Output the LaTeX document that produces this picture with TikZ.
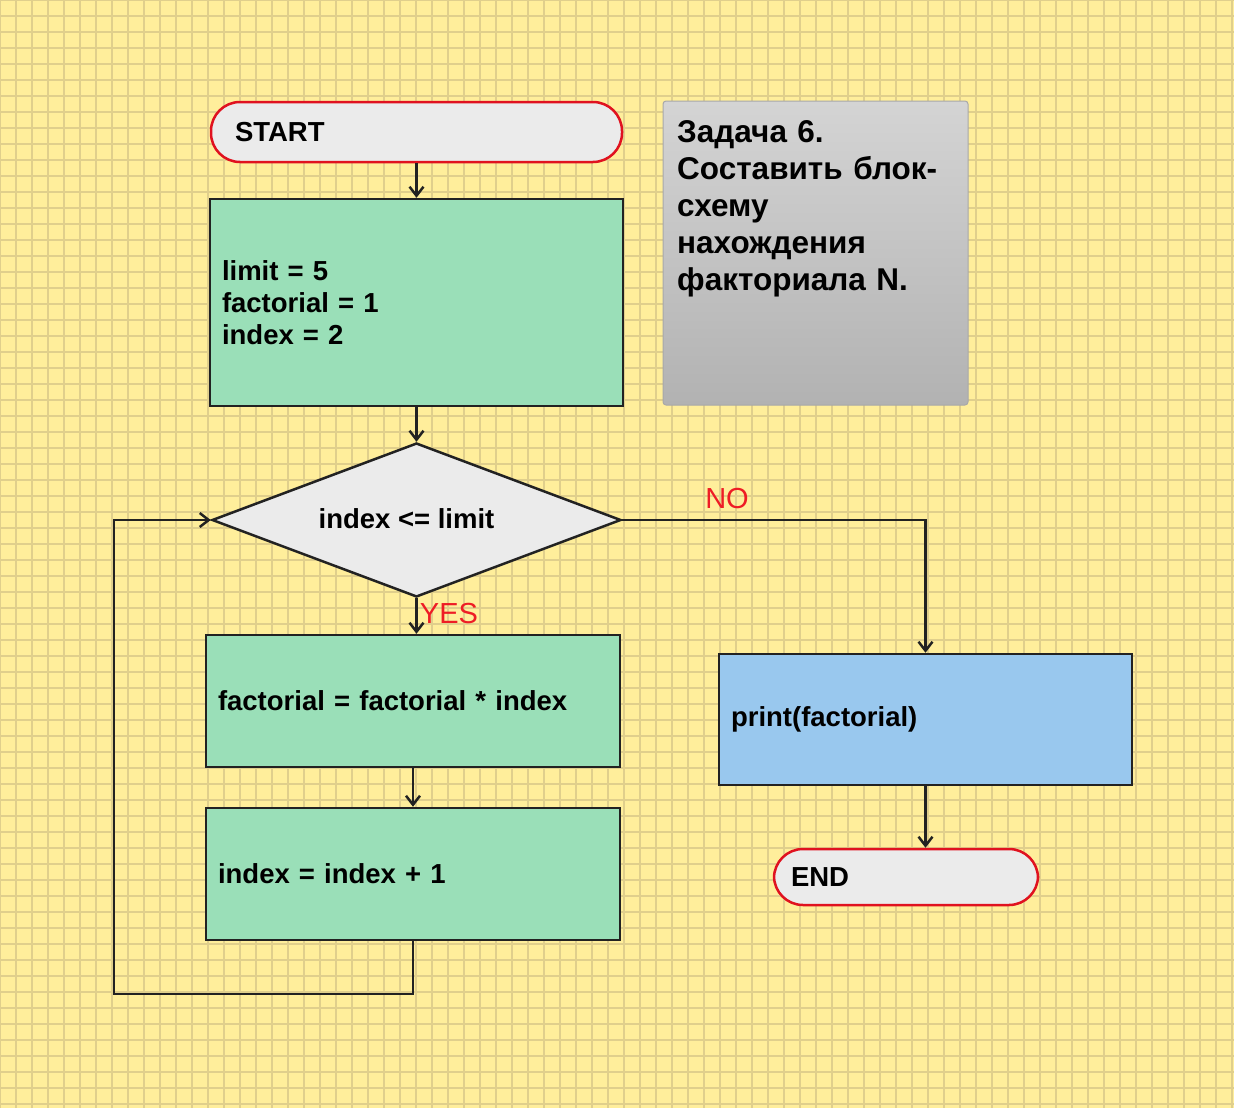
\documentclass[tikz,border=0pt]{standalone}
\usepackage{fontspec}
\setmainfont{Liberation Sans}
\usetikzlibrary{arrows.meta,shapes.geometric,calc}
\definecolor{bgyellow}{HTML}{FFEE9B}
\definecolor{gridline}{HTML}{E0CF8C}
\definecolor{boxgreen}{HTML}{9ADFB8}
\definecolor{boxblue}{HTML}{99C8EE}
\definecolor{termfill}{HTML}{EBEBEB}
\definecolor{termred}{HTML}{E0121F}
\definecolor{inkdark}{HTML}{222222}
\definecolor{notered}{HTML}{EE1C25}
\definecolor{graytop}{HTML}{D4D4D4}
\definecolor{graybot}{HTML}{B2B2B2}
\definecolor{grayedge}{HTML}{A8A8A8}
\begin{document}
\begin{tikzpicture}[x=1pt,y=-1pt,
  mainfont/.style={font=\fontsize{27.5}{32}\selectfont\bfseries},
  proc/.style={mainfont, draw=inkdark, line width=2.5pt, rectangle, inner sep=0pt, inner xsep=12pt, align=left, text=black},
  term/.style={mainfont, draw=termred, fill=termfill, line width=2.5pt, rectangle, rounded corners=29pt, inner sep=0pt, align=left},
  decision/.style={draw=inkdark, fill=termfill, line width=2.5pt, diamond, inner sep=0pt},
  conn/.style={draw=inkdark, line width=2.5pt, -{Straight Barb[length=9pt,width=14pt,line width=2.5pt]}},
  note/.style={text=notered, font=\fontsize{29}{32}\selectfont, inner sep=0pt}
]
\useasboundingbox (0,0) rectangle (1234,1108);
\fill[bgyellow] (0,0) rectangle (1234,1108);
\foreach \gx in {0,16,...,1232} {\draw[gridline, line width=1.5pt] (\gx,0) -- (\gx,1108);}
\foreach \gy in {0,16,...,1104} {\draw[gridline, line width=1.5pt] (0,\gy) -- (1234,\gy);}

% terminals
\node[term, minimum width=411pt, minimum height=60pt, text width=387pt, inner xsep=12pt] (start) at (416.5,132) {\hspace*{12pt}START};
\node[term, minimum width=264pt, minimum height=56pt, text width=240pt] (end) at (906,877) {\hspace*{5pt}END};

% process boxes
\node[proc, fill=boxgreen, minimum height=207pt, text width=389pt] (init) at (416.5,302.5) {limit = 5\\factorial = 1\\index = 2};
\node[proc, fill=boxgreen, minimum height=132pt, text width=390pt] (mult) at (413,701) {factorial = factorial * index};
\node[proc, fill=boxgreen, minimum height=132pt, text width=390pt] (incr) at (413,874) {index = index + 1};
\node[proc, fill=boxblue, minimum height=131pt, text width=389pt] (print) at (925.5,719.5) {print(factorial)};

% decision
\node[decision, minimum width=409pt, minimum height=154pt] (dia) at (416.5,520) {};
\node[mainfont, inner sep=0pt] (cond) at (406.5,519) {index <= limit};

% task note
\node[rectangle, rounded corners=3pt, draw=grayedge, line width=1pt, top color=graytop, bottom color=graybot, minimum width=305pt, minimum height=304pt, inner sep=0pt] (task) at (815.5,253) {};
\node[anchor=north west, inner sep=0pt, text width=295pt, align=left, font=\fontsize{31.5}{37}\selectfont\bfseries] (tasktext) at (677,120) {Задача 6.\\Составить блок-\\схему\\нахождения\\факториала N.};

% connectors
\draw[conn] (start.south) -- (init.north);
\draw[conn] (init.south) -- (dia.north);
\draw[conn] (dia.south) -- (dia.south |- mult.north);
\draw[conn] (mult.south) -- (incr.north);
\coordinate (loopcorner) at (114,994);
\draw[conn] (incr.south) -- (incr.south |- loopcorner) -- (loopcorner) -- (loopcorner |- dia.west) -- (dia.west);
\draw[conn] (dia.east) -| (print.north);
\draw[conn] (print.south) -- (print.south |- end.north);

% branch labels
\node[note] (nolabel) at (727,499) {NO};
\node[note] (yeslabel) at (449,614) {YES};
\end{tikzpicture}
\end{document}
